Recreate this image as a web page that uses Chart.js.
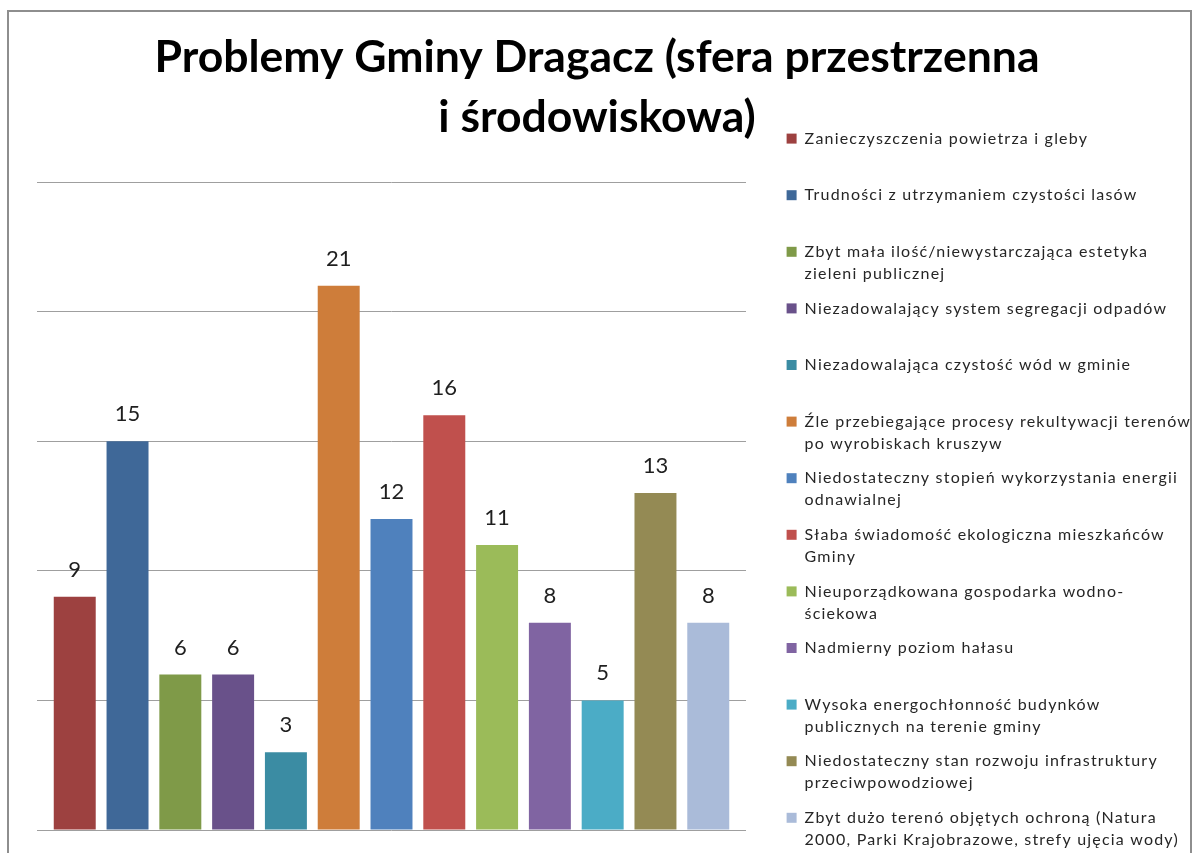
<!DOCTYPE html>
<html lang="pl">
<head>
<meta charset="utf-8">
<title>Problemy Gminy Dragacz</title>
<script src="https://cdn.jsdelivr.net/npm/chart.js@4.4.1/dist/chart.umd.min.js"></script>
<style>
  html, body { margin: 0; padding: 0; background: #fff; overflow: hidden; }
  /* grey frame of the original screenshot; the canvas sits in page coordinates */
  #frame { position: absolute; left: 7px; top: 10px; width: 1181px; height: 860px;
           border: 2px solid #8e8e8e; border-bottom: none; overflow: hidden; }
  #wrap { position: absolute; left: -9px; top: -12px; width: 1194px; height: 853px; }
</style>
</head>
<body>
<div id="frame"><div id="wrap"><canvas id="chart"></canvas></div></div>
<script>
// ---------------- data ----------------
const titleLines = ['Problemy Gminy Dragacz (sfera przestrzenna', 'i środowiskowa)'];
const categories = [''];
// legend entries, split the way the original wraps them
const seriesNames = [
  ['Zanieczyszczenia powietrza i gleby', ''],
  ['Trudności z utrzymaniem czystości lasów', ''],
  ['Zbyt mała ilość/niewystarczająca estetyka', 'zieleni publicznej'],
  ['Niezadowalający system segregacji odpadów', ''],
  ['Niezadowalająca czystość wód w gminie', ''],
  ['Źle przebiegające procesy rekultywacji terenów', 'po wyrobiskach kruszyw'],
  ['Niedostateczny stopień wykorzystania energii', 'odnawialnej'],
  ['Słaba świadomość ekologiczna mieszkańców', 'Gminy'],
  ['Nieuporządkowana gospodarka wodno-', 'ściekowa'],
  ['Nadmierny poziom hałasu', ''],
  ['Wysoka energochłonność budynków', 'publicznych na terenie gminy'],
  ['Niedostateczny stan rozwoju infrastruktury', 'przeciwpowodziowej'],
  ['Zbyt dużo terenó objętych ochroną (Natura', '2000, Parki Krajobrazowe, strefy ujęcia wody)']
];
const seriesValues = [9, 15, 6, 6, 3, 21, 12, 16, 11, 8, 5, 13, 8];
const seriesColors = ['#9d4140', '#3f6898', '#7f9a48', '#69518a', '#3b8ca3', '#ce7d3a', '#4f81bd',
                      '#c0504d', '#9bbb59', '#8064a2', '#4bacc6', '#948a54', '#aabbd9'];
const yMax = 25;
const yStep = 5;

// ---------------- value labels above the bars ----------------
const valueLabels = {
  id: 'valueLabels',
  afterDatasetsDraw(chart) {
    const ctx = chart.ctx;
    ctx.save();
    ctx.font = '22px Lato';
    ctx.fillStyle = '#1f1f1f';
    ctx.textAlign = 'center';
    ctx.textBaseline = 'middle';
    chart.data.datasets.forEach((ds, i) => {
      chart.getDatasetMeta(i).data.forEach((bar, j) => {
        ctx.fillText(String(ds.data[j]), bar.x, bar.y - 27);
      });
    });
    ctx.restore();
  }
};

// the original legend text is set loosely (old Excel screenshot), widen it a bit
const legendSpacing = {
  id: 'legendSpacing',
  afterInit(chart) {
    const legend = chart.legend;
    if (!legend) return;
    ['fit', 'draw'].forEach(name => {
      const orig = legend[name];
      legend[name] = function (...args) {
        const ctx = this.ctx;
        ctx.letterSpacing = '1.2px';
        const r = orig.apply(this, args);
        ctx.letterSpacing = '0px';
        return r;
      };
    });
  }
};

Chart.defaults.font.family = 'Lato';

const hidden = { grid: { display: false }, border: { display: false }, ticks: { display: false } };

new Chart(document.getElementById('chart'), {
  type: 'bar',
  data: {
    labels: categories,
    datasets: seriesNames.map((name, i) => ({
      label: name,
      data: [seriesValues[i]],
      backgroundColor: seriesColors[i],
      borderWidth: 0
    }))
  },
  options: {
    responsive: true,
    maintainAspectRatio: false,
    animation: false,
    datasets: { bar: { categoryPercentage: 0.968, barPercentage: 0.795 } },
    layout: { padding: 0 },
    plugins: {
      tooltip: { enabled: false },
      title: {
        display: true,
        text: titleLines,
        color: '#000',
        font: { family: 'Lato', size: 44.5, weight: 'bold', lineHeight: '60px' },
        padding: { top: 28, bottom: -30 }
      },
      legend: {
        position: 'right',
        align: 'start',
        maxWidth: 420,
        // empty legend title only pushes the entries below the chart title
        title: { display: true, text: '', font: { size: 10, lineHeight: '10px' }, padding: { top: 108, bottom: 0 } },
        labels: {
          boxWidth: 10,
          boxHeight: 10,
          color: '#262626',
          padding: 12.6,
          font: { family: 'Lato', size: 16, lineHeight: '22px' }
        }
      }
    },
    scales: {
      x: { position: 'bottom', ...hidden, afterFit: s => { s.height = 23; } },
      // spacer axes, only used to reproduce the original plot margins
      xTop: { type: 'category', position: 'top', ...hidden, afterFit: s => { s.height = 64; } },
      y: {
        position: 'left', min: 0, max: yMax,
        ticks: { display: false, stepSize: yStep },
        grid: { color: '#9f9f9f', lineWidth: 1, drawTicks: false },
        border: { display: false },
        afterFit: s => { s.width = 37; }
      },
      yGap: { type: 'linear', position: 'right', ...hidden, afterFit: s => { s.width = 28; } }
    }
  },
  plugins: [valueLabels, legendSpacing]
});
</script>
</body>
</html>
